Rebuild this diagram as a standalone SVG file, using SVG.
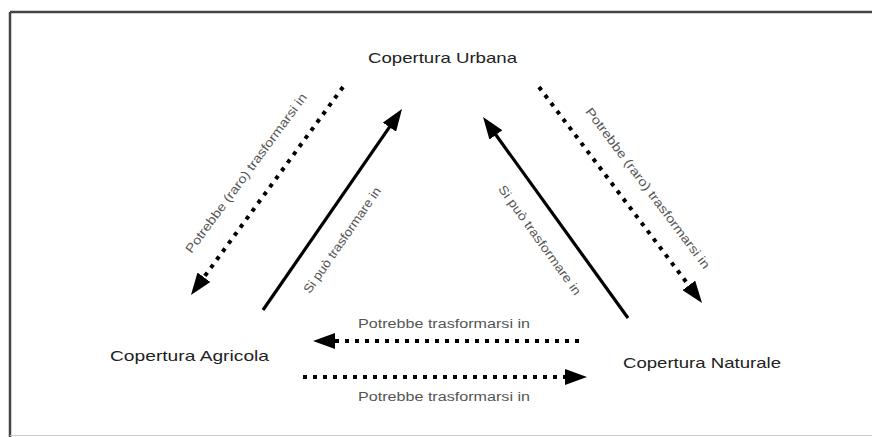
<svg xmlns="http://www.w3.org/2000/svg" width="872" height="437" viewBox="0 0 872 437">
<style>
.node{font-family:"Liberation Sans",Arial,sans-serif;font-size:15px;fill:#222}
.lbl{font-family:"Liberation Sans",Arial,sans-serif;font-size:12.5px;fill:#555;text-anchor:middle}
.solid{stroke:#000;stroke-width:3.2;fill:none}
.dot{stroke:#000;stroke-width:4;fill:none;stroke-dasharray:4 6}
</style>
<defs>
<marker id="ah" viewBox="0 0 22 16" refX="6" refY="8" markerWidth="22" markerHeight="16" markerUnits="userSpaceOnUse" orient="auto">
<path d="M0,0 L22,8 L0,16 Z" fill="#000"/>
</marker>
</defs>
<rect x="0" y="0" width="872" height="437" fill="#fff"/>
<g id="frame">
<line x1="10" y1="12" x2="872" y2="12" stroke="#444" stroke-width="2.5"/>
<line x1="10" y1="12" x2="10" y2="437" stroke="#444" stroke-width="2.5"/>
<line x1="10" y1="435.5" x2="872" y2="435.5" stroke="#ccc" stroke-width="1"/>
</g>
<g id="node-urbana"><text class="node" x="368" y="63" textLength="149" lengthAdjust="spacingAndGlyphs">Copertura Urbana</text></g>
<g id="node-agricola"><text class="node" x="110" y="360.5" textLength="159" lengthAdjust="spacingAndGlyphs">Copertura Agricola</text></g>
<g id="node-naturale"><text class="node" x="623" y="368" textLength="158" lengthAdjust="spacingAndGlyphs">Copertura Naturale</text></g>
<g id="connectors">
<line class="dot" x1="343" y1="87" x2="200.4" y2="282.1" marker-end="url(#ah)"/>
<line class="solid" x1="263" y1="310" x2="392.9" y2="122.2" marker-end="url(#ah)"/>
<line class="solid" x1="628" y1="318" x2="492.4" y2="130" marker-end="url(#ah)"/>
<line class="dot" x1="539" y1="87" x2="692.4" y2="290.2" marker-end="url(#ah)"/>
<line class="dot" x1="579" y1="341" x2="329" y2="341" marker-end="url(#ah)"/>
<line class="dot" x1="303" y1="377" x2="571" y2="377" marker-end="url(#ah)"/>
<text class="lbl" x="444" y="328" textLength="172" lengthAdjust="spacingAndGlyphs">Potrebbe trasformarsi in</text>
<text class="lbl" x="444" y="401" textLength="172" lengthAdjust="spacingAndGlyphs">Potrebbe trasformarsi in</text>
<text class="lbl" transform="translate(246,173) rotate(-53.5)" x="0" y="4.5" textLength="195" lengthAdjust="spacingAndGlyphs">Potrebbe (raro) trasformarsi in</text>
<text class="lbl" transform="translate(342,240) rotate(-55.3)" x="0" y="4.5" textLength="126" lengthAdjust="spacingAndGlyphs">Si può trasformare in</text>
<text class="lbl" transform="translate(540,240) rotate(54.2)" x="0" y="4.5" textLength="132" lengthAdjust="spacingAndGlyphs">Si può trasformare in</text>
<text class="lbl" transform="translate(648,188) rotate(53)" x="0" y="4.5" textLength="198" lengthAdjust="spacingAndGlyphs">Potrebbe (raro) trasformarsi in</text>
</g>
</svg>
